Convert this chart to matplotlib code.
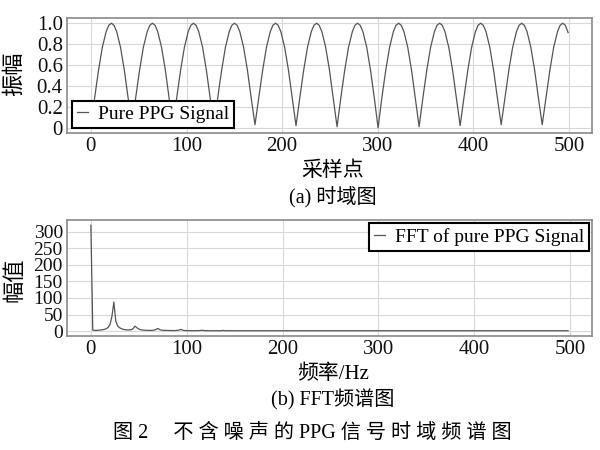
import matplotlib
matplotlib.use("Agg")
import matplotlib.pyplot as plt

plt.rcParams['font.family'] = ['Liberation Serif', 'Noto Sans CJK SC', 'DejaVu Serif']

# ---------------- data ----------------
signal_x = [
    0, 4, 8, 12, 16, 18.7, 21.5, 24.2, 27, 31, 35, 39,
    42.9, 46.9, 50.9, 54.9, 58.9, 61.6, 64.4, 67.1, 69.9, 73.9, 77.9, 81.9,
    85.8, 89.8, 93.8, 97.8, 101.8, 104.5, 107.3, 110.0, 112.8, 116.8, 120.8, 124.8,
    128.7, 132.7, 136.7, 140.7, 144.7, 147.4, 150.2, 152.9, 155.7, 159.7, 163.7, 167.7,
    171.6, 175.6, 179.6, 183.6, 187.6, 190.3, 193.1, 195.8, 198.6, 202.6, 206.6, 210.6,
    214.5, 218.5, 222.5, 226.5, 230.5, 233.2, 236.0, 238.7, 241.5, 245.5, 249.5, 253.5,
    257.4, 261.4, 265.4, 269.4, 273.4, 276.1, 278.9, 281.6, 284.4, 288.4, 292.4, 296.4,
    300.3, 304.3, 308.3, 312.3, 316.3, 319.0, 321.8, 324.5, 327.3, 331.3, 335.3, 339.3,
    343.2, 347.2, 351.2, 355.2, 359.2, 361.9, 364.7, 367.4, 370.2, 374.2, 378.2, 382.2,
    386.1, 390.1, 394.1, 398.1, 402.1, 404.8, 407.6, 410.3, 413.1, 417.1, 421.1, 425.1,
    429.0, 433.0, 437.0, 441.0, 445.0, 447.7, 450.5, 453.2, 456.0, 460.0, 464.0, 468.0,
    471.9, 475.9, 479.9, 483.9, 487.9, 490.6, 493.4, 496.1, 499.0,
]
signal_y = [
    0.00, 0.29, 0.55, 0.77, 0.92, 0.98, 1.00, 0.98, 0.92, 0.77, 0.55, 0.28,
    0.02, 0.29, 0.55, 0.77, 0.92, 0.98, 1.00, 0.98, 0.92, 0.77, 0.55, 0.28,
    0.01, 0.29, 0.55, 0.77, 0.92, 0.98, 1.00, 0.98, 0.92, 0.77, 0.55, 0.28,
    0.00, 0.29, 0.55, 0.77, 0.92, 0.98, 1.00, 0.98, 0.92, 0.77, 0.55, 0.28,
    0.03, 0.29, 0.55, 0.77, 0.92, 0.98, 1.00, 0.98, 0.92, 0.77, 0.55, 0.28,
    0.02, 0.29, 0.55, 0.77, 0.92, 0.98, 1.00, 0.98, 0.92, 0.77, 0.55, 0.28,
    0.01, 0.29, 0.55, 0.77, 0.92, 0.98, 1.00, 0.98, 0.92, 0.77, 0.55, 0.28,
    0.00, 0.29, 0.55, 0.77, 0.92, 0.98, 1.00, 0.98, 0.92, 0.77, 0.55, 0.28,
    0.01, 0.29, 0.55, 0.77, 0.92, 0.98, 1.00, 0.98, 0.92, 0.77, 0.55, 0.28,
    0.02, 0.29, 0.55, 0.77, 0.92, 0.98, 1.00, 0.98, 0.92, 0.77, 0.55, 0.28,
    0.03, 0.29, 0.55, 0.77, 0.92, 0.98, 1.00, 0.98, 0.92, 0.77, 0.55, 0.28,
    0.03, 0.29, 0.55, 0.77, 0.92, 0.98, 1.00, 0.98, 0.91,
]

fft_freq = [0, 2, 4, 6, 8, 10, 12, 14, 16, 18,
            20, 22, 24, 26, 28, 30, 32, 34, 36, 38,
            40, 42, 44, 46, 48, 50, 52, 54, 56, 60,
            64, 66, 68, 70, 72, 74, 78, 84, 88, 90,
            92, 94, 96, 98, 104, 110, 114, 116, 118, 120,
            126, 136, 138, 140, 142, 150, 200, 250, 300, 350,
            400, 450, 498]
fft_mag = [320, 3, 2, 2, 2.5, 3, 4, 5, 7, 11,
           20, 45, 88, 30, 15, 10, 7, 5, 4, 3.5,
           3.5, 4, 7, 15, 10, 6, 4, 3, 2.5, 2,
           2, 3, 5, 8, 4, 2.5, 2, 1.5, 1.5, 2,
           3, 5, 2.5, 1.5, 1.2, 1.2, 1.5, 2.5, 1.5, 1.2,
           1, 1, 2, 1, 1, 1, 1, 1, 1, 1,
           1, 1, 1]

x_ticks = [0, 100, 200, 300, 400, 500]
sig_yticks = [0, 0.2, 0.4, 0.6, 0.8, 1.0]
sig_ylabels = ["0", "0.2", "0.4", "0.6", "0.8", "1.0"]
fft_yticks = [0, 50, 100, 150, 200, 250, 300]

# ---------------- figure ----------------
fig = plt.figure(figsize=(6, 4.5), dpi=100)
ax1 = fig.add_axes([67/600, 1-133/450, 525/600, 115/450])
ax2 = fig.add_axes([67/600, 1-336/450, 525/600, 116/450])

line_color = "#555555"
grid_color = "#d8d8d8"
spine_color = "#8a8a8a"

def style(ax, ysize):
    ax.grid(True, color=grid_color, linewidth=0.8)
    ax.set_axisbelow(True)
    for s in ax.spines.values():
        s.set_color(spine_color)
        s.set_linewidth(1.2)
    ax.tick_params(length=0, labelsize=15, pad=3, colors="#111111")
    ax.tick_params(axis="y", labelsize=ysize)
    ax.set_xticks(x_ticks)

ax1.plot(signal_x, signal_y, color=line_color, linewidth=0.9, label="Pure PPG Signal")
style(ax1, 15)
ax1.set_yticks(sig_yticks)
ax1.set_yticklabels(sig_ylabels)
leg1 = ax1.legend(loc="lower left", fontsize=14, handlelength=0.6, handletextpad=0.5,
                  fancybox=False, framealpha=1, edgecolor="black", borderaxespad=0.25,
                  borderpad=0.25)
leg1.get_frame().set_linewidth(1.5)

ax2.plot(fft_freq, fft_mag, color=line_color, linewidth=0.9, label="FFT of pure PPG Signal")
style(ax2, 14)
ax2.set_yticks(fft_yticks)
leg2 = ax2.legend(loc="upper right", fontsize=14, handlelength=0.6, handletextpad=0.5,
                  fancybox=False, framealpha=1, edgecolor="black", borderaxespad=0.15,
                  borderpad=0.25)
leg2.get_frame().set_linewidth(1.5)

# labels
fig.text(0.025, 1-74/450, "振幅", rotation=90, ha="center", va="center", fontsize=16)
fig.text(333/600, 1-171/450, "采样点", ha="center", va="center", fontsize=15)
fig.text(333/600, 1-198/450, "(a) 时域图", ha="center", va="center", fontsize=14.5)
fig.text(0.025, 1-280/450, "幅值", rotation=90, ha="center", va="center", fontsize=16)
fig.text(333/600, 1-374/450, "频率/Hz", ha="center", va="center", fontsize=15)
fig.text(333/600, 1-400/450, "(b) FFT频谱图", ha="center", va="center", fontsize=14.5)

caption = "图 2\u2003 " + " ".join(["不", "含", "噪", "声", "的", "PPG", "信", "号", "时", "域", "频", "谱", "图"])
fig.text(312/600, 1-433/450, caption, ha="center", va="center", fontsize=14.5)

fig.savefig("out.png", dpi=100, facecolor="white")
